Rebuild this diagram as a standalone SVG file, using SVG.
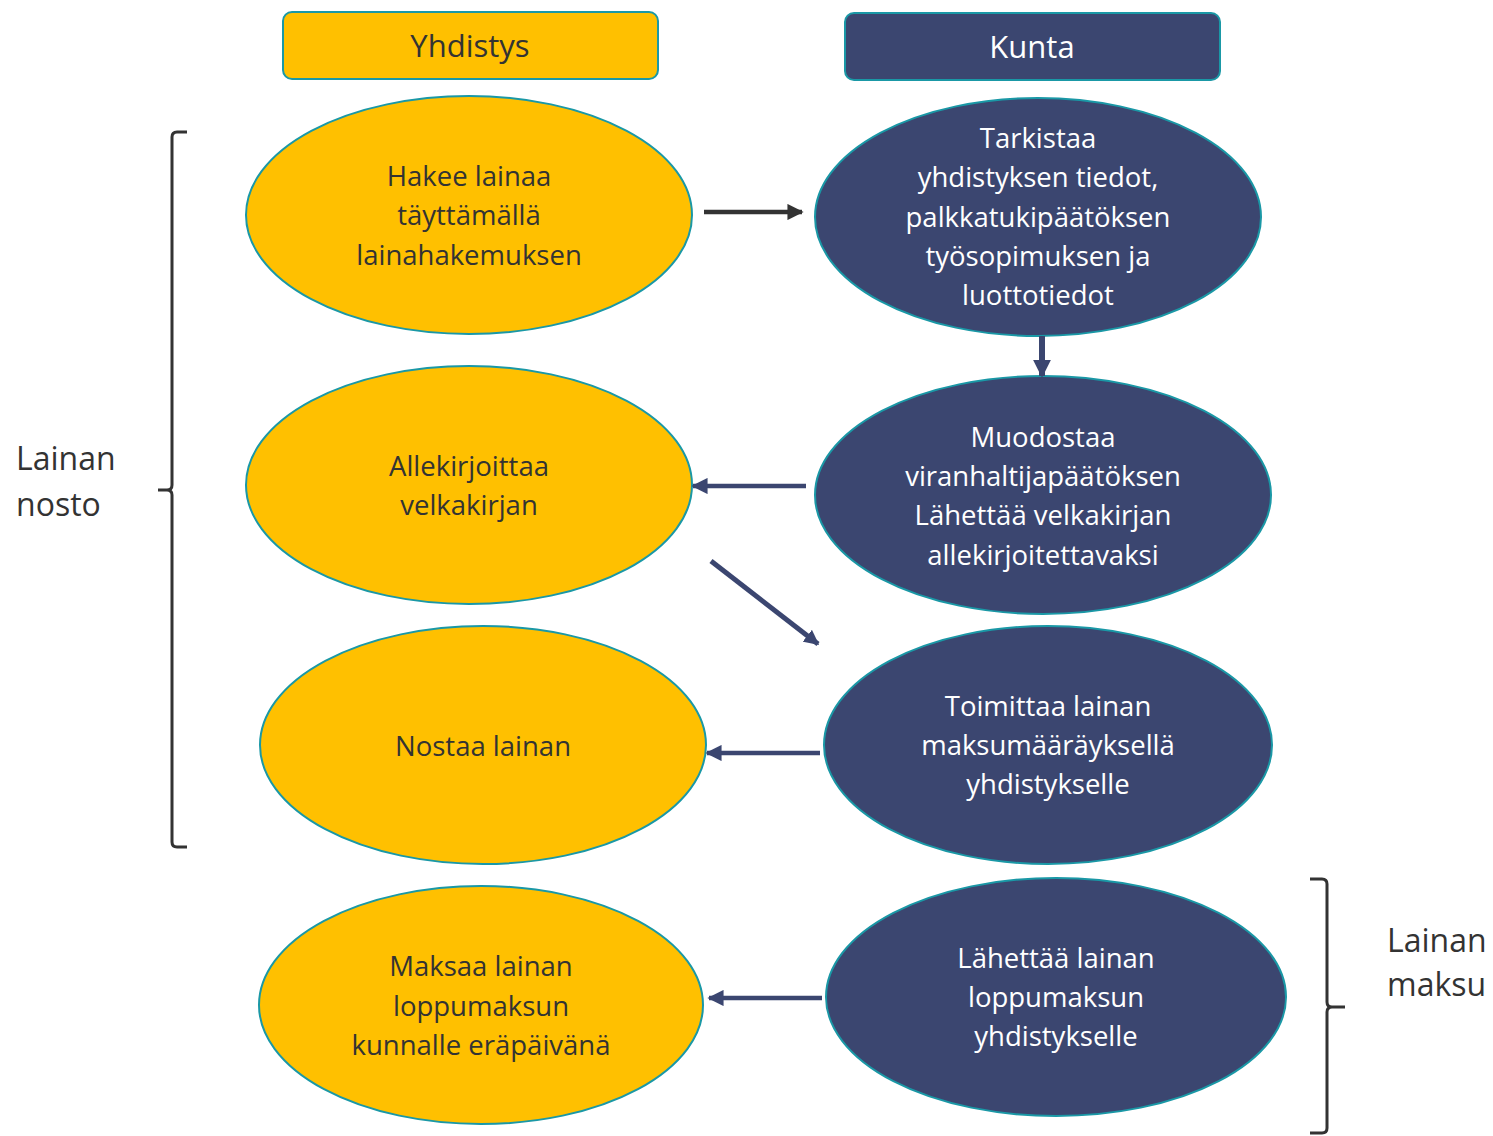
<svg xmlns="http://www.w3.org/2000/svg" width="1493" height="1136" viewBox="0 0 1493 1136">
<defs>
<style>
.y{fill:#FFC000;stroke:#1A98A6;stroke-width:2}
.n{fill:#3B4670;stroke:#1A98A6;stroke-width:2}
text{font-family:"Open Sans",Lato,"Liberation Sans",sans-serif;font-size:27.5px;text-anchor:middle}
.dt{fill:#333333}
.wt{fill:#FFFFFF}
.hd{font-size:31px}
.lbl{font-size:32px;text-anchor:start;fill:#333333}
.c{fill:none;stroke-width:4.5}
.br{fill:none;stroke:#333333;stroke-width:3}
</style>
<marker id="ad" viewBox="0 0 10 10" refX="9" refY="5" markerWidth="3.6" markerHeight="3.6" orient="auto" markerUnits="strokeWidth"><path d="M0,0 L10,5 L0,10 Z" fill="#333333"/></marker>
<marker id="an" viewBox="0 0 10 10" refX="9" refY="5" markerWidth="3.6" markerHeight="3.6" orient="auto" markerUnits="strokeWidth"><path d="M0,0 L10,5 L0,10 Z" fill="#3B4670"/></marker>
<marker id="an2" viewBox="0 0 10 10" refX="9" refY="5" markerWidth="3" markerHeight="3" orient="auto" markerUnits="strokeWidth"><path d="M0,0 L10,5 L0,10 Z" fill="#3B4670"/></marker>
</defs>
<g id="hdr-yhdistys"><rect class="y" x="283" y="12" width="375" height="67" rx="9"/><text class="dt hd" x="470" y="57">Yhdistys</text></g>
<g id="hdr-kunta"><rect class="n" x="845" y="13" width="375" height="67" rx="9"/><text class="wt hd" x="1032" y="58">Kunta</text></g>
<g id="y1"><ellipse class="y" cx="469" cy="215" rx="223" ry="119"/><text class="dt"><tspan x="469" y="186">Hakee lainaa</tspan><tspan x="469" y="225">täyttämällä</tspan><tspan x="469" y="265">lainahakemuksen</tspan></text></g>
<g id="n1"><ellipse class="n" cx="1038" cy="217" rx="223" ry="119"/><text class="wt"><tspan x="1038" y="148">Tarkistaa</tspan><tspan x="1038" y="187">yhdistyksen tiedot,</tspan><tspan x="1038" y="227">palkkatukipäätöksen</tspan><tspan x="1038" y="266">työsopimuksen ja</tspan><tspan x="1038" y="305">luottotiedot</tspan></text></g>
<g id="n2"><ellipse class="n" cx="1043" cy="495" rx="228" ry="119"/><text class="wt"><tspan x="1043" y="447">Muodostaa</tspan><tspan x="1043" y="486">viranhaltijapäätöksen</tspan><tspan x="1043" y="525">Lähettää velkakirjan</tspan><tspan x="1043" y="565">allekirjoitettavaksi</tspan></text></g>
<g id="y2"><ellipse class="y" cx="469" cy="485" rx="223" ry="119"/><text class="dt"><tspan x="469" y="476">Allekirjoittaa</tspan><tspan x="469" y="515">velkakirjan</tspan></text></g>
<g id="y3"><ellipse class="y" cx="483" cy="745" rx="223" ry="119"/><text class="dt" x="483" y="756">Nostaa lainan</text></g>
<g id="n3"><ellipse class="n" cx="1048" cy="745" rx="224" ry="119"/><text class="wt"><tspan x="1048" y="716">Toimittaa lainan</tspan><tspan x="1048" y="755">maksumääräyksellä</tspan><tspan x="1048" y="794">yhdistykselle</tspan></text></g>
<g id="y4"><ellipse class="y" cx="481" cy="1005" rx="222" ry="119"/><text class="dt"><tspan x="481" y="976">Maksaa lainan</tspan><tspan x="481" y="1016">loppumaksun</tspan><tspan x="481" y="1055">kunnalle eräpäivänä</tspan></text></g>
<g id="n4"><ellipse class="n" cx="1056" cy="997" rx="230" ry="119"/><text class="wt"><tspan x="1056" y="968">Lähettää lainan</tspan><tspan x="1056" y="1007">loppumaksun</tspan><tspan x="1056" y="1046">yhdistykselle</tspan></text></g>
<g id="connectors">
<line class="c" x1="704" y1="212" x2="802" y2="212" stroke="#333333" marker-end="url(#ad)"/>
<line class="c" x1="1042" y1="336" x2="1042" y2="376" stroke="#3B4670" style="stroke-width:6" marker-end="url(#an2)"/>
<line class="c" x1="806" y1="486" x2="693" y2="486" stroke="#3B4670" marker-end="url(#an)"/>
<line class="c" x1="711" y1="561" x2="818" y2="644" stroke="#3B4670" style="stroke-width:5" marker-end="url(#an2)"/>
<line class="c" x1="820" y1="753" x2="707" y2="753" stroke="#3B4670" marker-end="url(#an)"/>
<line class="c" x1="822" y1="998" x2="709" y2="998" stroke="#3B4670" marker-end="url(#an)"/>
</g>
<g id="bracket-nosto">
<path class="br" d="M187,132 H177 Q172,132 172,137 V485 Q172,490 167,490 H158 M167,490 Q172,490 172,495 V842 Q172,847 177,847 H187"/>
<text class="lbl"><tspan x="16" y="470">Lainan</tspan><tspan x="16" y="516">nosto</tspan></text>
</g>
<g id="bracket-maksu">
<path class="br" d="M1310,879 H1322 Q1327,879 1327,884 V1002 Q1327,1007 1332,1007 H1345 M1332,1007 Q1327,1007 1327,1012 V1128 Q1327,1133 1322,1133 H1310"/>
<text class="lbl"><tspan x="1387" y="952">Lainan</tspan><tspan x="1387" y="996">maksu</tspan></text>
</g>
</svg>
